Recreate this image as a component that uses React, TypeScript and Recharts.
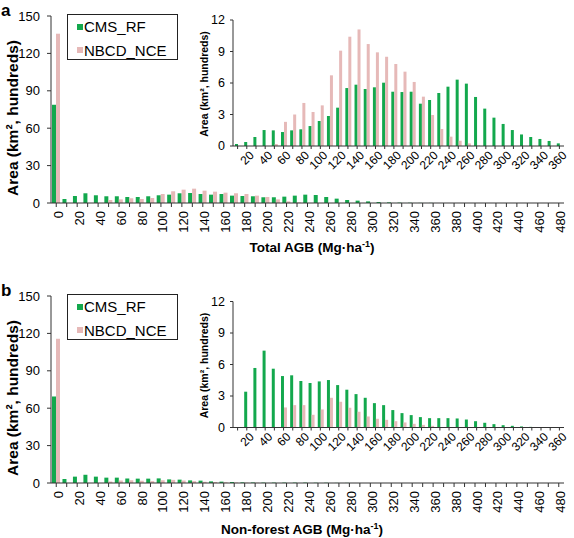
import React from 'react';
import { BarChart, Bar, XAxis, YAxis } from 'recharts';

// ---------- categories ----------
const mainBins = [0, 10, 20, 30, 40, 50, 60, 70, 80, 90, 100, 110, 120, 130, 140, 150, 160, 170, 180, 190, 200, 210, 220, 230, 240, 250, 260, 270, 280, 290, 300, 310, 320, 330, 340, 350, 360, 370, 380, 390, 400, 410, 420, 430, 440, 450, 460, 470, 480];
const insetBins = [10, 20, 30, 40, 50, 60, 70, 80, 90, 100, 110, 120, 130, 140, 150, 160, 170, 180, 190, 200, 210, 220, 230, 240, 250, 260, 270, 280, 290, 300, 310, 320, 330, 340, 350, 360];
const mainYTicks = [0, 30, 60, 90, 120, 150];
const insetYTicks = [0, 3, 6, 9, 12];
const seriesNames = ['CMS_RF', 'NBCD_NCE'];

// ---------- panel a : Total AGB ----------
const totalMainCms = [78.8, 3.2, 5.6, 7.8, 6.2, 5.4, 5.4, 4.8, 4.8, 5.4, 6.2, 6.7, 7.8, 8.0, 7.2, 6.7, 7.2, 5.9, 5.6, 5.4, 4.6, 4.6, 5.1, 5.9, 6.7, 6.4, 4.8, 3.5, 2.4, 1.9, 1.3, 0.8, 0.5, 0.3, 0.2, 0.1, 0.1, 0, 0, 0, 0, 0, 0, 0, 0, 0, 0, 0, 0];
const totalMainNbcd = [135.8, 0, 0, 0, 0, 2.4, 2.9, 3.8, 3.2, 4.0, 7.2, 9.4, 10.7, 11.5, 9.9, 9.1, 8.3, 7.8, 7.2, 5.9, 4.8, 2.9, 1.3, 0.5, 0, 0, 0, 0, 0, 0, 0, 0, 0, 0, 0, 0, 0, 0, 0, 0, 0, 0, 0, 0, 0, 0, 0, 0, 0];
const totalInsetCms = [0.19, 0.38, 0.86, 1.52, 1.49, 1.33, 1.49, 1.59, 1.9, 2.38, 2.86, 3.65, 5.52, 5.84, 5.43, 5.59, 6.03, 5.17, 5.14, 5.17, 4.03, 4.38, 5.05, 5.65, 6.32, 5.94, 4.67, 3.56, 2.7, 2.1, 1.52, 1.1, 0.86, 0.67, 0.48, 0.25];
const totalInsetNbcd = [0, 0, 0, 0, 0.19, 2.3, 3.0, 4.1, 3.24, 3.87, 6.73, 9.08, 10.41, 11.1, 9.71, 8.92, 8.5, 7.81, 7.08, 6.1, 4.7, 2.95, 1.62, 0.89, 0.5, 0.25, 0.05, 0, 0, 0, 0, 0, 0, 0, 0, 0];

// ---------- panel b : Non-forest AGB ----------
const nonMainCms = [69.4, 3.2, 5.1, 6.6, 5.1, 4.3, 4.3, 3.7, 3.5, 3.5, 3.7, 2.9, 2.7, 2.1, 1.9, 1.3, 1.1, 0.8, 0.5, 0.4, 0.3, 0.3, 0.3, 0.3, 0.3, 0.2, 0.2, 0.1, 0.1, 0, 0, 0, 0, 0, 0, 0, 0, 0, 0, 0, 0, 0, 0, 0, 0, 0, 0, 0, 0];
const nonMainNbcd = [115.7, 0, 0, 0, 0, 1.2, 2.0, 2.2, 1.8, 1.5, 2.2, 2.5, 2.0, 1.5, 1.0, 0.8, 0.6, 0.4, 0.3, 0.2, 0, 0, 0, 0, 0, 0, 0, 0, 0, 0, 0, 0, 0, 0, 0, 0, 0, 0, 0, 0, 0, 0, 0, 0, 0, 0, 0, 0, 0];
const nonInsetCms = [0, 3.41, 5.67, 7.32, 5.6, 4.9, 4.97, 4.43, 4.24, 4.39, 4.52, 4.04, 3.6, 3.18, 2.83, 2.32, 2.13, 1.66, 1.37, 1.18, 0.99, 0.89, 0.89, 0.89, 0.86, 0.76, 0.6, 0.45, 0.32, 0.22, 0.16, 0.1, 0.06, 0.04, 0.03, 0.02];
const nonInsetNbcd = [0, 0, 0, 0, 0, 1.91, 2.13, 2.13, 1.21, 1.72, 2.83, 2.45, 1.88, 1.5, 1.05, 0.83, 0.73, 0.6, 0.48, 0.35, 0.25, 0.16, 0.05, 0, 0, 0, 0, 0, 0, 0, 0, 0, 0, 0, 0, 0];

const GREEN = '#13a84d';
const PINK = '#e6b9b8';
const AXIS = '#333';
const FONT = '"Liberation Sans", Arial, Helvetica, sans-serif';

const build = (bins: number[], cms: number[], nbcd: number[]) =>
  bins.map((b, i) => ({ bin: b, cms: cms[i], nbcd: nbcd[i] }));

const MainTick = (props: any) => {
  const { x, y, payload } = props;
  if (payload.value % 20 !== 0) return <g />;
  const tx = x + 2;
  return (
    <text x={tx} y={y} transform={`rotate(-90 ${tx} ${y})`} textAnchor="end" dy="0.35em" fontSize={13} fill="#000">
      {payload.value}
    </text>
  );
};

const InsetTick = (props: any) => {
  const { x, y, payload } = props;
  if (payload.value % 20 !== 0) return <g />;
  const tx = x + 5;
  const ty = y + 1;
  return (
    <text x={tx} y={ty} transform={`rotate(-45 ${tx} ${ty})`} textAnchor="end" dy="0.35em" fontSize={12} fill="#000">
      {payload.value}
    </text>
  );
};

const RotTitle = (props: any) => {
  const { px, py, size, text } = props;
  return (
    <text x={px} y={py} transform={`rotate(-90 ${px} ${py})`} textAnchor="middle" dy="0.35em" fontSize={size} fontWeight="bold" fill="#000">
      {text}
    </text>
  );
};

const XTitle = (props: any) => {
  const { px, py, text } = props;
  return (
    <text x={px} y={py} textAnchor="middle" fontSize={13.5} fontWeight="bold" fill="#000">
      {text}
      <tspan fontSize={9} dy={-5}>-1</tspan>
      <tspan dy={5}>)</tspan>
    </text>
  );
};

type PanelProps = {
  top: number;
  letter: string;
  title: string;
  titleX: number;
  titleY: number;
  mainCms: number[];
  mainNbcd: number[];
  insetCms: number[];
  insetNbcd: number[];
  insetTop: number;
};

const Panel = (p: PanelProps) => {
  const mainData = build(mainBins, p.mainCms, p.mainNbcd);
  const insetData = build(insetBins, p.insetCms, p.insetNbcd);
  const insetH = 200;
  return (
    <div style={{ position: 'absolute', left: 0, top: p.top, width: 574, height: 258 }}>
      <BarChart width={574} height={258} data={mainData} margin={{ top: 16, right: 10, left: 0, bottom: 0 }} barGap={0}>
        <XAxis
          dataKey="bin"
          interval={0}
          height={55}
          tick={<MainTick />}
          tickSize={4}
          tickMargin={4}
          axisLine={{ stroke: AXIS }}
          tickLine={{ stroke: AXIS }}
          label={<XTitle px={p.titleX} py={p.titleY} text={p.title} />}
        />
        <YAxis
          width={51}
          domain={[0, 150]}
          ticks={mainYTicks}
          interval={0}
          tickSize={4}
          tickMargin={7}
          tick={{ fontSize: 13, fill: '#000' }}
          axisLine={{ stroke: AXIS }}
          tickLine={{ stroke: AXIS }}
          label={<RotTitle px={13} py={118} size={15.5} text="Area (km², hundreds)" />}
        />
        <Bar dataKey="cms" name={seriesNames[0]} fill={GREEN} barSize={4} isAnimationActive={false} />
        <Bar dataKey="nbcd" name={seriesNames[1]} fill={PINK} barSize={4} isAnimationActive={false} />
      </BarChart>

      <div style={{ position: 'absolute', left: 190, top: 0, width: 384, height: insetH }}>
        <BarChart width={384} height={insetH} data={insetData} margin={{ top: p.insetTop, right: 10, left: 0, bottom: 0 }} barGap={0}>
          <XAxis
            dataKey="bin"
            interval={0}
            height={insetH - p.insetTop - 126}
            tick={<InsetTick />}
            tickSize={3}
            tickMargin={3}
            axisLine={{ stroke: AXIS }}
            tickLine={{ stroke: AXIS }}
          />
          <YAxis
            width={43}
            domain={[0, 12]}
            ticks={insetYTicks}
            interval={0}
            tickSize={3}
            tickMargin={5}
            tick={{ fontSize: 12.5, fill: '#000' }}
            axisLine={{ stroke: AXIS }}
            tickLine={{ stroke: AXIS }}
            label={<RotTitle px={14} py={p.insetTop + 64} size={10.5} text="Area (km², hundreds)" />}
          />
          <Bar dataKey="cms" name={seriesNames[0]} fill={GREEN} barSize={3} isAnimationActive={false} />
          <Bar dataKey="nbcd" name={seriesNames[1]} fill={PINK} barSize={3} isAnimationActive={false} />
        </BarChart>
      </div>

      <div
        style={{
          position: 'absolute',
          left: 67,
          top: 14,
          width: 111,
          height: 46,
          boxSizing: 'border-box',
          border: '1px solid #222',
          background: '#fff',
          fontSize: 15,
          color: '#000',
        }}
      >
        {seriesNames.map((n, i) => (
          <div key={n} style={{ position: 'absolute', left: 0, top: i * 23.5, width: '100%', height: 23, lineHeight: '23px' }}>
            <span style={{ position: 'absolute', left: 9, top: 8.5, width: 6, height: 6, background: i === 0 ? GREEN : PINK }} />
            <span style={{ position: 'absolute', left: 16, top: 0, whiteSpace: 'nowrap' }}>{n}</span>
          </div>
        ))}
      </div>

      <div style={{ position: 'absolute', left: 1, top: 1, fontSize: 17, fontWeight: 'bold', lineHeight: '20px', color: '#000' }}>
        {p.letter}
      </div>
    </div>
  );
};

export default function App() {
  return (
    <div style={{ position: 'absolute', left: 0, top: 0, width: 574, height: 538, background: '#fff', fontFamily: FONT, overflow: 'hidden' }}>
      <Panel
        top={0}
        letter="a"
        title="Total AGB (Mg·ha"
        titleX={312}
        titleY={252}
        mainCms={totalMainCms}
        mainNbcd={totalMainNbcd}
        insetCms={totalInsetCms}
        insetNbcd={totalInsetNbcd}
        insetTop={20}
      />
      <Panel
        top={280}
        letter="b"
        title="Non-forest  AGB (Mg·ha"
        titleX={302}
        titleY={254}
        mainCms={nonMainCms}
        mainNbcd={nonMainNbcd}
        insetCms={nonInsetCms}
        insetNbcd={nonInsetNbcd}
        insetTop={21.5}
      />
    </div>
  );
}
